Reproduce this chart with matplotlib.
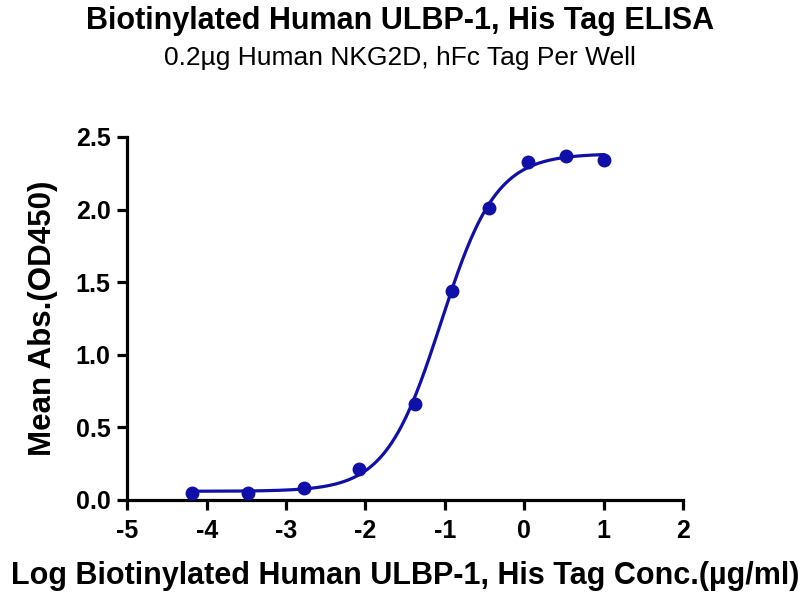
import numpy as np
import matplotlib
matplotlib.use("Agg")
import matplotlib.pyplot as plt

plt.rcParams['font.family'] = ['Liberation Sans', 'DejaVu Sans']

# Measured points (log conc, mean OD450)
log_conc = [-4.18, -3.48, -2.78, -2.08, -1.38, -0.91, -0.44, 0.05, 0.52, 1.0]
mean_abs = [0.05, 0.05, 0.08, 0.21, 0.66, 1.44, 2.01, 2.33, 2.37, 2.34]

# 4PL fit parameters
bottom = 0.06
top = 2.385
log_ec50 = -1.05
hill = 1.25

x_ticks = [-5, -4, -3, -2, -1, 0, 1, 2]
y_ticks = [0.0, 0.5, 1.0, 1.5, 2.0, 2.5]

color = '#1010A8'

fig = plt.figure(figsize=(8, 6), dpi=100)
ax = fig.add_axes([0.159, 0.1667, 0.695, 0.605])

xs = np.linspace(min(log_conc), max(log_conc), 400)
ys = bottom + (top - bottom) / (1 + 10 ** ((log_ec50 - xs) * hill))
ax.plot(xs, ys, color=color, lw=2.3, zorder=2)
ax.plot(log_conc, mean_abs, 'o', color=color, ms=9, zorder=3, clip_on=False)

ax.set_xlim(-5, 2)
ax.set_ylim(0, 2.5)
ax.set_xticks(x_ticks)
ax.set_yticks(y_ticks)
ax.set_xticklabels([str(t) for t in x_ticks])
ax.set_yticklabels(['%.1f' % t for t in y_ticks])

for s in ['top', 'right']:
    ax.spines[s].set_visible(False)
for s in ['left', 'bottom']:
    ax.spines[s].set_linewidth(2.3)
ax.tick_params(width=2.3, length=7, labelsize=18)
ax.tick_params(axis='x', pad=7)
ax.tick_params(axis='y', pad=5)
for lab in ax.get_xticklabels() + ax.get_yticklabels():
    lab.set_fontweight('bold')

ax.set_xlabel('Log Biotinylated Human ULBP-1, His Tag Conc.(µg/ml)',
              fontsize=22, fontweight='bold', labelpad=13)
ax.set_ylabel('Mean Abs.(OD450)', fontsize=22.5, fontweight='bold')
ax.yaxis.set_label_coords(-0.124, 0.5)

fig.text(0.5, 0.965, 'Biotinylated Human ULBP-1, His Tag ELISA',
         ha='center', va='center', fontsize=22, fontweight='bold')
fig.text(0.5, 0.903, '0.2µg Human NKG2D, hFc Tag Per Well',
         ha='center', va='center', fontsize=19)

fig.savefig('out.png', dpi=100)
